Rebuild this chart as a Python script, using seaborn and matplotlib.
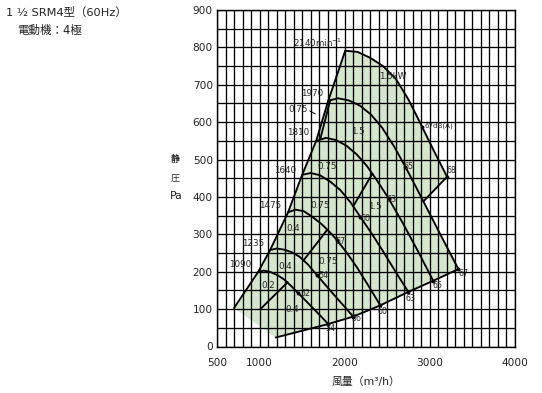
import numpy as np
import matplotlib
matplotlib.use("Agg")
import matplotlib.pyplot as plt
import seaborn as sns

sns.set_theme(style="white")
plt.rcParams['font.family'] = ['DejaVu Sans', 'Noto Sans CJK JP']

# ---- data (airflow m3/h, static pressure Pa) ----
surge_q = [700, 982, 1124, 1335, 1500, 1665, 1806, 2006]
surge_p = [103, 199, 258, 359, 459, 550, 657, 791]

limit_q = [1190, 1806, 2100, 2418, 2747, 3041, 3335]
limit_p = [24, 60, 80, 110, 146, 176, 207]

q_1090 = [982, 1050, 1130, 1210, 1290, 1370, 1457, 1540, 1630, 1720, 1806]
p_1090 = [199, 203, 199, 191, 179, 162, 142, 123, 102, 81, 60]
q_1235 = [1124, 1200, 1290, 1380, 1470, 1570, 1673, 1780, 1890, 2000, 2100]
p_1235 = [258, 262, 259, 252, 240, 219, 191, 163, 134, 106, 80]
q_1475 = [1335, 1420, 1520, 1630, 1730, 1820, 1908, 2020, 2140, 2280, 2418]
p_1475 = [359, 366, 362, 345, 327, 307, 285, 252, 213, 162, 110]
q_1640 = [1500, 1600, 1710, 1830, 1950, 2070, 2182, 2320, 2460, 2600, 2747]
p_1640 = [459, 464, 458, 441, 418, 385, 347, 301, 251, 199, 146]
q_1810 = [1665, 1780, 1900, 2020, 2140, 2260, 2380, 2515, 2680, 2860, 3041]
p_1810 = [550, 558, 552, 537, 514, 483, 444, 396, 331, 255, 175]
q_1970 = [1806, 1920, 2050, 2180, 2310, 2440, 2580, 2712, 2870, 3100, 3335]
p_1970 = [657, 664, 658, 644, 620, 585, 535, 481, 412, 310, 207]
q_2140 = [2006, 2150, 2300, 2450, 2600, 2750, 2908, 3050, 3202]
p_2140 = [791, 788, 772, 750, 716, 660, 588, 522, 454]

# motor power boundary lines
kw_a_q = [1010, 1330]; kw_a_p = [100, 172]
kw_b_q = [1512, 1794]; kw_b_p = [229, 312]
kw_c_q = [2100, 2324]; kw_c_p = [375, 462]
kw_d_q = [3202, 2924]; kw_d_p = [454, 388]
kw_e_q = [1712, 1830]; kw_e_p = [554, 659]

# noise points dB(A)
db_q = [1457, 1673, 1908, 2182, 2515, 2712, 2908, 3202,
        1806, 2100, 2418, 2747, 3041, 3335]
db_p = [142, 191, 285, 347, 396, 481, 588, 454,
        60, 80, 110, 146, 176, 207]

speed_labels = ["1090", "1235", "1475", "1640", "1810", "1970"]
speed_lab_q = [770, 927, 1124, 1300, 1453, 1614]
speed_lab_p = [218, 276, 378, 472, 572, 677]

kw_labels = ["1.5kW", "1.5", "0.75", "0.75", "1.5", "0.4", "0.75", "0.4", "0.2", "0.4"]
kw_lab_q = [2559, 2159, 1790, 1712, 2359, 1398, 1810, 1300, 1103, 1379]
kw_lab_p = [721, 574, 481, 378, 375, 316, 227, 215, 162, 99]

db_labels = ["52", "54", "57", "60", "63", "65", "68",
             "54", "56", "60", "63", "65", "67"]
db_lab_q = [1535, 1751, 1947, 2241, 2555, 2751, 3250,
            1829, 2135, 2449, 2771, 3092, 3398]
db_lab_p = [142, 191, 280, 343, 394, 481, 472,
            49, 75, 93, 129, 162, 194]

# ---- figure ----
fig = plt.figure(figsize=(5.42, 3.93), dpi=100)
ax = fig.add_axes([217/542, 1-346.5/393, (515-217)/542, (346.5-10)/393])
ax.set_facecolor("white")

# operating region fill
poly_q = (surge_q + q_2140[1:] + kw_d_q[1:] +
          [q for q in q_1970 if q > kw_d_q[1]] + limit_q[::-1][1:])
poly_p = (surge_p + p_2140[1:] + kw_d_p[1:] +
          [p for q, p in zip(q_1970, p_1970) if q > kw_d_q[1]] + limit_p[::-1][1:])
ax.fill(poly_q, poly_p, color="#d5e6cc", zorder=1, lw=0)

ax.set_xlim(500, 4000)
ax.set_ylim(0, 900)
ax.set_xticks([500, 1000, 2000, 3000, 4000])
ax.set_xticks(np.arange(500, 4001, 100), minor=True)
ax.set_yticks(np.arange(0, 901, 100))
ax.set_yticks(np.arange(0, 901, 50), minor=True)
ax.grid(which="both", color="black", lw=0.95, zorder=2)
ax.set_axisbelow(False)
for s in ax.spines.values():
    s.set_color("black"); s.set_linewidth(1.0)
ax.tick_params(which="both", length=0, labelsize=7.6, colors="#222222")
ax.tick_params(axis="x", pad=8)
ax.tick_params(axis="y", pad=3)

lw = 1.35
curves = [(surge_q, surge_p), (limit_q, limit_p),
          (q_1090, p_1090), (q_1235, p_1235), (q_1475, p_1475),
          (q_1640, p_1640), (q_1810, p_1810), (q_1970, p_1970), (q_2140, p_2140),
          (kw_a_q, kw_a_p), (kw_b_q, kw_b_p), (kw_c_q, kw_c_p),
          (kw_d_q, kw_d_p), (kw_e_q, kw_e_p)]
for q, p in curves:
    sns.lineplot(x=q, y=p, ax=ax, color="black", lw=lw, sort=False,
                 estimator=None, zorder=4)

sns.scatterplot(x=db_q, y=db_p, ax=ax, color="black", s=8, zorder=5, linewidth=0)

fs = 6.3
for t, q, p in zip(speed_labels, speed_lab_q, speed_lab_p):
    ax.text(q, p, t, fontsize=fs, ha="center", va="center", zorder=6)
ax.text(1688, 812, "2140min$^{-1}$", fontsize=fs, ha="center", va="center", zorder=6)
for t, q, p in zip(kw_labels, kw_lab_q, kw_lab_p):
    ax.text(q, p, t, fontsize=fs, ha="center", va="center", zorder=6)
for t, q, p in zip(db_labels, db_lab_q, db_lab_p):
    ax.text(q, p, t, fontsize=fs-0.6, ha="center", va="center", zorder=6)
ax.text(1453, 635, "0.75", fontsize=fs, ha="center", va="center", zorder=6)
ax.plot([1590, 1655], [630, 622], color="black", lw=0.7, zorder=6)
ax.text(2935, 590, "67dB(A)", fontsize=fs-1.2, ha="left", va="center", zorder=6)

ax.set_xlabel(""); ax.set_ylabel("")

# titles and axis captions
fig.text(6/542, 1-12/393, "1 ½ SRM4型（60Hz）", fontsize=8.2, ha="left", va="center", color="#222222")
fig.text(17/542, 1-30/393, "電動機：4極", fontsize=8.3, ha="left", va="center", color="#222222")
fig.text(175/542, 1-159/393, "静", fontsize=6.5, ha="center", va="center", fontweight="bold")
fig.text(175/542, 1-178/393, "圧", fontsize=6.5, ha="center", va="center")
fig.text(176/542, 1-196/393, "Pa", fontsize=7.8, ha="center", va="center", color="#222222")
fig.text(366/542, 1-382/393, "風量（m³/h）", fontsize=7.8, ha="center", va="center", color="#222222")

fig.savefig("out.png", dpi=100)
